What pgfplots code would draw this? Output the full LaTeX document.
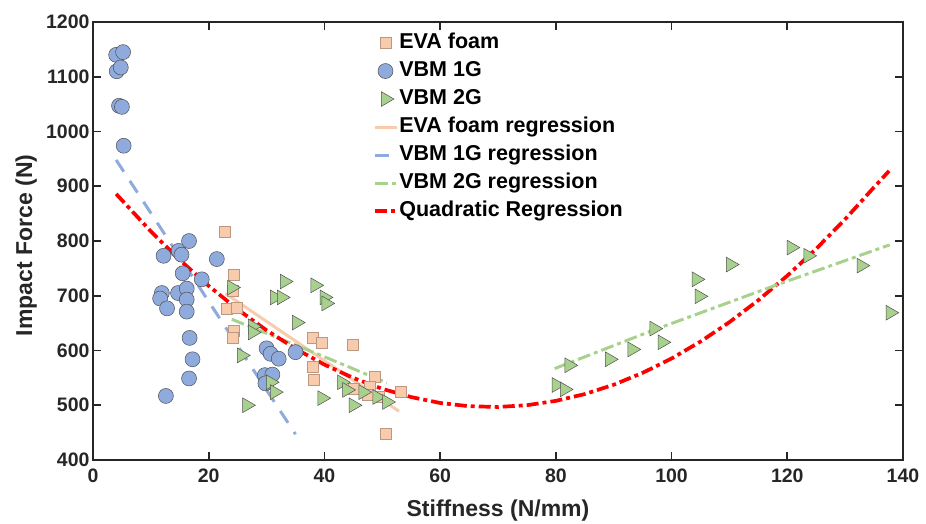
\documentclass[border=0pt]{standalone}
\usepackage{pgfplots}
\pgfplotsset{compat=1.18}
\usepackage{fontspec}
\setmainfont{Liberation Sans}
\definecolor{eva}{HTML}{F8CBAD}
\definecolor{vbmone}{HTML}{8FAADC}
\definecolor{vbmtwo}{HTML}{A9D18E}
\definecolor{axc}{HTML}{262626}
\definecolor{edge}{HTML}{505050}
\begin{document}
\begin{tikzpicture}
\begin{axis}[
  width=810pt, height=438pt, scale only axis,
  xmin=0, xmax=140, ymin=400, ymax=1200,
  xtick={0,20,...,140}, ytick={400,500,...,1200},
  tick align=inside, major tick length=8pt,
  axis line style={line width=1.6pt, color=axc},
  every tick/.style={line width=1.6pt, color=axc},
  tick label style={font=\fontsize{19.5}{20}\selectfont\bfseries, color=axc},
  xticklabel style={yshift=-5pt},
  /pgf/number format/assume math mode=true,
  /pgf/number format/set thousands separator={},
  xlabel={Stiffness (N/mm)}, ylabel={Impact Force (N)},
  label style={font=\fontsize{23}{24}\selectfont\bfseries, color=axc},
  xlabel style={at={(axis description cs:0.5,-0.1301)}, anchor=base},
  ylabel style={at={(axis description cs:-0.0753,0.49)}, anchor=base},
  legend style={at={(axis cs:48.3,1183)}, anchor=north west, draw=none, fill=none,
    inner sep=0pt, font=\fontsize{21.5}{22}\selectfont\bfseries, row sep=5pt,
    nodes={inner sep=1pt, text height=16pt, text depth=5pt}},
  legend cell align=left,
  legend image code/.code={\draw[mark repeat=2,mark phase=2,#1] plot coordinates {(0pt,0pt)(11pt,0pt)(22pt,0pt)};},
]
% EVA foam
\addplot[only marks, mark=square*, mark size=5.5pt,
  mark options={fill=eva, draw=eva!75!black, line width=0.3pt}] coordinates {
  (22.7,817) (24.3,739) (23.1,677) (24.8,679) (24.1,710) (24.3,637) (24.1,624)
  (37.9,624) (39.6,614) (44.9,610) (37.9,570) (38.1,546) (48.7,552) (47.9,534)
  (49.3,516) (47.5,520) (45.0,530) (53.1,525) (50.5,448)
};
\addlegendentry{EVA foam}
% VBM 1G
\addplot[only marks, mark=*, mark size=7.5pt,
  mark options={fill=vbmone, draw=edge, line width=0.5pt}] coordinates {
  (4.0,1140) (5.2,1145) (4.1,1110) (4.8,1117) (4.5,1047) (5.0,1045) (5.3,974)
  (12.2,773) (14.8,782) (15.3,775) (16.6,800) (21.4,767) (15.5,741) (18.8,730)
  (11.9,705) (11.6,695) (14.7,705) (16.2,713) (16.2,693) (12.8,677) (16.2,671)
  (16.7,623) (17.2,584) (16.6,549) (12.6,517)
  (30.0,604) (30.7,594) (32.1,585) (35.0,597) (29.7,555) (31.0,556) (29.8,540)
};
\addlegendentry{VBM 1G}
% VBM 2G
\addplot[only marks, mark=triangle*, mark size=8.5pt,
  mark options={rotate=-90, fill=vbmtwo, draw=edge, line width=0.5pt}] coordinates {
  (24.0,715) (25.7,591) (26.6,500) (33.1,726) (31.4,697) (32.6,697) (38.4,719)
  (40.0,697) (40.3,686) (35.2,651) (27.6,644) (27.6,633) (30.7,542) (31.4,524)
  (39.6,513) (43.0,542) (43.9,528) (45.0,500) (46.7,524) (49.1,515) (50.8,506)
  (80.1,537) (81.5,529) (82.3,573) (89.3,584) (93.2,602) (97.0,640) (98.4,615)
  (104.3,730) (104.8,699) (110.2,757) (120.7,788) (123.6,773) (132.8,755) (137.8,669)
};
\addlegendentry{VBM 2G}
% EVA regression
\addplot[color=eva, line width=3pt] coordinates {(22.9,704) (52.9,489)};
\addlegendentry{EVA foam regression}
% VBM 1G regression
\addplot[color=vbmone, line width=3pt, dash pattern=on 14pt off 11pt] coordinates {(4.0,948) (35.0,447)};
\addlegendentry{VBM 1G regression}
% VBM 2G regression
\addplot[color=vbmtwo, line width=3pt, dash pattern=on 13pt off 4pt on 4pt off 4pt] coordinates {(24.0,657) (39.2,592) (50.8,541)};
\addlegendentry{VBM 2G regression}
% Quadratic
\addplot[color=red, line width=3.7pt, dash pattern=on 12pt off 4pt on 4pt off 4pt] coordinates {
  (4,886) (10,817.5) (15,765.4) (20,718) (25,675.1) (30,636.9) (35,603.3) (40,574.2)
  (45,549.8) (50,530) (55,514.9) (60,504.2) (65,498.2) (70,496.9) (75,500.1) (80,508)
  (85,520.4) (90,537.5) (95,559.2) (100,585.4) (105,616.3) (110,651.8) (115,691.9)
  (120,736.6) (125,785.8) (130,839.8) (135,898.3) (137.6,928)
};
\addlegendentry{Quadratic Regression}
\addplot[forget plot, color=vbmtwo, line width=3pt, dash pattern=on 13pt off 4pt on 4pt off 4pt] coordinates {(79.8,567) (96.8,637) (118.2,720) (137.7,793)};
\end{axis}
\pgfresetboundingbox
\path (current axis.south west) ++(-93pt,-63pt) rectangle ++(926pt,523pt);
\end{tikzpicture}
\end{document}
